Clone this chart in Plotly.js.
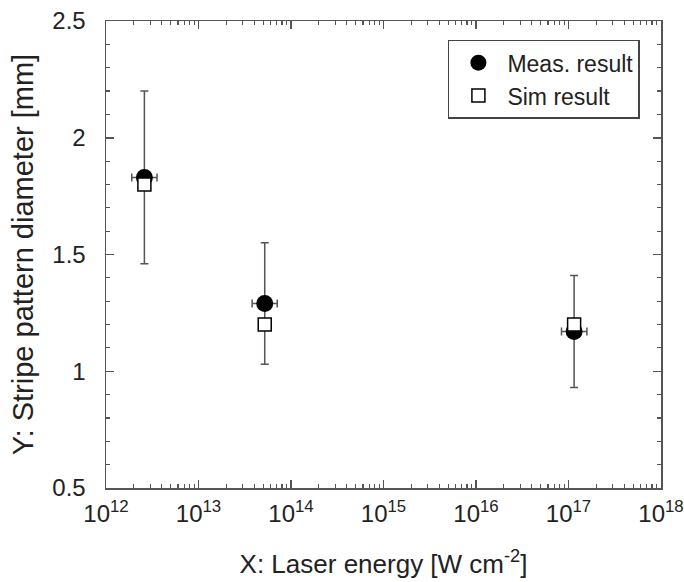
<!DOCTYPE html>
<html>
<head>
<meta charset="utf-8">
<script src="https://cdn.plot.ly/plotly-3.0.1.min.js"></script>
<style>html,body{margin:0;padding:0;background:#fff;}#chart{width:684px;height:582px;}</style>
</head>
<body>
<div id="chart"></div>
<script>
const xValues = [2.6e12, 5.2e13, 1.15e17];
const measY = [1.83, 1.29, 1.17];
const measYErr = [0.37, 0.26, 0.24];
const measXErrPlus = [0.96e12, 1.9e13, 4.3e16];
const measXErrMinus = [0.7e12, 1.4e13, 3.1e16];
const simY = [1.80, 1.20, 1.20];
const xTickVals = [1e12, 1e13, 1e14, 1e15, 1e16, 1e17, 1e18];
const xTickText = ['10<sup>12</sup>', '10<sup>13</sup>', '10<sup>14</sup>', '10<sup>15</sup>', '10<sup>16</sup>', '10<sup>17</sup>', '10<sup>18</sup>'];
const yTickVals = [0.5, 1, 1.5, 2, 2.5];
const yTickText = ['0.5', '1', '1.5', '2', '2.5'];
const seriesNames = ['Meas. result', 'Sim result'];

const font = 'Liberation Sans, Arial, Helvetica, sans-serif';

const traces = [
  {
    x: xValues, y: measY, name: seriesNames[0], type: 'scatter', mode: 'markers',
    marker: {symbol: 'circle', size: 17, color: '#000'},
    error_y: {type: 'data', array: measYErr, visible: true, color: '#555', thickness: 1.5, width: 4},
    error_x: {type: 'data', symmetric: false, array: measXErrPlus, arrayminus: measXErrMinus, visible: true, color: '#555', thickness: 1.5, width: 4}
  },
  {
    x: xValues, y: simY, name: seriesNames[1], type: 'scatter', mode: 'markers',
    marker: {symbol: 'square', size: 13, color: '#fff', line: {color: '#000', width: 1.5}}
  }
];

const axisCommon = {
  showgrid: false, zeroline: false, showline: true, linecolor: '#555', linewidth: 1.5,
  mirror: 'ticks', ticks: 'inside', ticklen: 8, tickwidth: 1.5, tickcolor: '#555'
};

const layout = {
  width: 684, height: 582,
  margin: {l: 106, r: 23, t: 21, b: 93.5},
  paper_bgcolor: '#fff', plot_bgcolor: '#fff',
  showlegend: true,
  legend: {
    x: 0.962, y: 0.96, xanchor: 'right', yanchor: 'top',
    bordercolor: '#444', borderwidth: 1.5, bgcolor: '#fff',
    font: {family: font, size: 23, color: '#222'},
    itemwidth: 48,
    tracegroupgap: 0
  },
  xaxis: Object.assign({}, axisCommon, {
    type: 'log', range: [12, 18],
    tickvals: xTickVals, ticktext: xTickText,
    tickfont: {family: font, size: 24, color: '#222'},
    ticklabelstandoff: 4,
    ticklabeloverflow: 'allow',
    minor: {ticks: 'inside', ticklen: 4, tickwidth: 1.2, tickcolor: '#555', dtick: 'D1'},
    title: {text: 'X: Laser energy [W cm<sup>-2</sup>]', font: {family: font, size: 26, color: '#222'}, standoff: 28}
  }),
  yaxis: Object.assign({}, axisCommon, {
    range: [0.5, 2.5], tickvals: yTickVals, ticktext: yTickText,
    tickfont: {family: font, size: 24, color: '#222'},
    ticklabelstandoff: 14,
    minor: {ticks: 'inside', ticklen: 4, tickwidth: 1.2, tickcolor: '#555', dtick: 0.1},
    title: {text: 'Y: Stripe pattern diameter [mm]', font: {family: font, size: 29, color: '#222'}, standoff: 10}
  })
};

Plotly.newPlot('chart', traces, layout, {displayModeBar: false, staticPlot: true});
</script>
</body>
</html>
